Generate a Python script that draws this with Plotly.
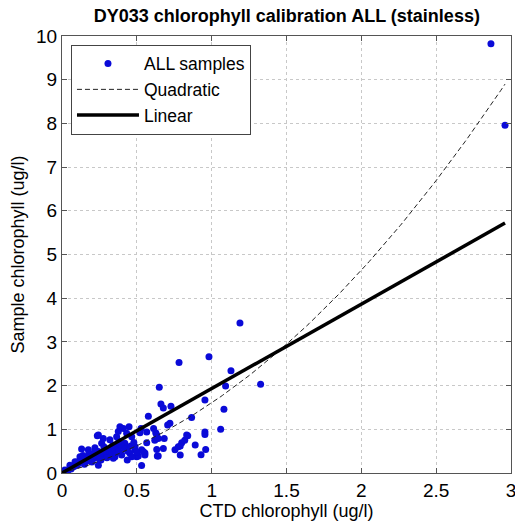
import numpy as np
import plotly.graph_objects as go

# CTD chlorophyll (x) vs sample chlorophyll (y)
ctd_x = [2.866, 2.96, 1.189, 0.982, 0.782, 1.129, 1.327, 1.093, 0.65, 0.955, 0.661, 0.677, 0.728, 1.082,
         1.06, 0.955, 0.955, 0.96, 0.929, 0.89, 0.577, 0.721, 0.706, 0.866, 0.612, 0.84, 0.80, 0.79, 0.755,
         0.79, 0.677, 0.637, 0.62, 0.626, 0.683, 0.532, 0.528, 0.448, 0.41, 0.387, 0.365, 0.276, 0.236, 0.42,
         0.488, 0.454, 0.499, 0.554, 0.554, 0.436, 0.399, 0.354, 0.243, 0.176, 0.131, 0.22, 0.243,
         0.376, 0.243, 0.432, 0.32, 0.265, 0.198, 0.12, 0.087, 0.053, 0.02, 0.343, 0.31, 0.376,
         0.521, 0.566, 0.633, 0.643, 0.566, 0.466, 0.488, 0.532, 0.51, 0.543, 0.633, 0.777, 0.82, 0.643,
         0.42, 0.833, 0.466,
         0.01, 0.03, 0.04, 0.05, 0.06, 0.07, 0.08, 0.09, 0.10, 0.11, 0.12, 0.13, 0.14, 0.15, 0.16, 0.17,
         0.18, 0.19, 0.20, 0.21, 0.22, 0.23, 0.25, 0.26, 0.27, 0.28, 0.29, 0.30, 0.32, 0.33, 0.35, 0.36,
         0.38, 0.40, 0.42, 0.44, 0.46, 0.48, 0.50, 0.02, 0.06, 0.10, 0.15, 0.20, 0.25, 0.30, 0.14, 0.18,
         0.22, 0.28, 0.34, 0.38]
sample_y = [9.82, 7.96, 3.43, 2.66, 2.53, 2.34, 2.03, 1.99, 1.96, 1.67, 1.58, 1.49, 1.53, 1.46,
            1.00, 0.94, 0.88, 0.54, 0.42, 0.64, 1.30, 1.14, 1.10, 1.27, 1.02, 0.85, 0.69, 0.62, 0.53,
            0.41, 0.56, 0.39, 0.75, 0.92, 0.79, 0.17, 1.02, 1.06, 1.02, 1.06, 0.83, 0.79, 0.85, 0.68,
            0.53, 0.45, 0.37, 0.41, 0.46, 0.30, 0.41, 0.37, 0.18, 0.53, 0.55, 0.58, 0.49,
            0.95, 0.87, 0.91, 0.76, 0.68, 0.41, 0.37, 0.26, 0.18, 0.07, 0.34, 0.53, 0.60,
            0.92, 0.94, 0.87, 0.79, 0.69, 0.83, 0.60, 0.53, 0.39, 0.49, 0.54, 0.60, 0.75, 0.39,
            0.64, 0.87, 0.37,
            0.02, 0.05, 0.06, 0.10, 0.09, 0.13, 0.15, 0.20, 0.18, 0.22, 0.25, 0.27, 0.30, 0.26, 0.33, 0.28,
            0.35, 0.30, 0.38, 0.33, 0.40, 0.36, 0.42, 0.30, 0.45, 0.38, 0.50, 0.42, 0.48, 0.40, 0.55, 0.45,
            0.50, 0.62, 0.55, 0.50, 0.62, 0.70, 0.48, 0.03, 0.14, 0.25, 0.20, 0.25, 0.32, 0.35, 0.40, 0.45,
            0.50, 0.60, 0.64, 0.72]

# Fit coefficients
lin_coef = [1.932, 0.0]          # slope, intercept
quad_coef = [0.715, 0.89, 0.0]   # x^2, x, const

fit_x = np.linspace(0, max(ctd_x), 200)
lin_y = np.polyval(lin_coef, fit_x)
quad_y = np.polyval(quad_coef, fit_x)

FONT = "Liberation Sans, Arial, sans-serif"

fig = go.Figure()
fig.add_trace(go.Scatter(x=ctd_x, y=sample_y, mode="markers", name="ALL samples",
                         marker=dict(color="#0a0ad8", size=7, line=dict(width=0))))
fig.add_trace(go.Scatter(x=fit_x, y=quad_y, mode="lines", name="Quadratic",
                         line=dict(color="#222", width=1, dash="5px,3px")))
fig.add_trace(go.Scatter(x=fit_x, y=lin_y, mode="lines", name="Linear",
                         line=dict(color="black", width=3.5)))

axis_common = dict(showgrid=True, gridcolor="#c8c8c8", griddash="dot", gridwidth=1,
                   showline=True, linecolor="#555", linewidth=1, mirror="ticks",
                   ticks="inside", ticklen=5, tickcolor="#555", zeroline=False,
                   ticklabeloverflow="allow", automargin=False,
                   tickfont=dict(family=FONT, size=19, color="black"))

fig.update_layout(
    width=515, height=527,
    margin=dict(l=62, r=4, t=36, b=54, autoexpand=False),
    paper_bgcolor="white", plot_bgcolor="white",
    title=dict(text="<b>DY033 chlorophyll calibration ALL (stainless)</b>",
               font=dict(family=FONT, size=18, color="black"),
               x=0.557, xanchor="center", y=0.971, yanchor="middle"),
    xaxis=dict(range=[0, 3], dtick=0.5, title=dict(text="CTD chlorophyll (ug/l)",
               font=dict(family=FONT, size=18, color="black"), standoff=4), **axis_common),
    yaxis=dict(range=[0, 10], dtick=1, title=dict(text="Sample chlorophyll (ug/l)",
               font=dict(family=FONT, size=18, color="black"), standoff=6), **axis_common),
    legend=dict(x=0.02, y=0.98, xanchor="left", yanchor="top",
                bgcolor="white", bordercolor="#444", borderwidth=1,
                font=dict(family=FONT, size=17.5, color="black"),
                itemwidth=62, tracegroupgap=0),
    showlegend=True,
)

fig.write_html("out.html")
